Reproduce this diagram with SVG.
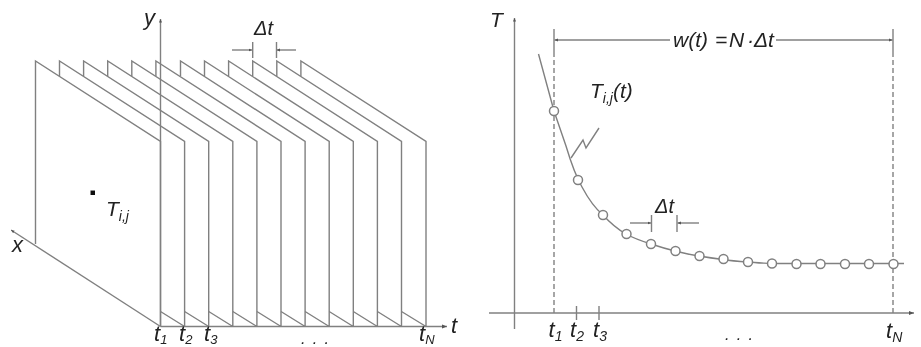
<svg xmlns="http://www.w3.org/2000/svg" width="921" height="347" viewBox="0 0 921 347">
<style>
.l{fill:none;stroke:#808080;stroke-width:1.4}
.d{stroke-dasharray:5 3}
.c{fill:#fff;stroke:#808080;stroke-width:1.5}
.t{font-family:"Liberation Sans",Arial,sans-serif;font-style:italic;fill:#222;font-size:20px}
.s{font-size:14px}
.u{font-size:13px}
.o{font-size:16px;letter-spacing:1.4px}
</style>
<defs>
<marker id="a" markerWidth="6" markerHeight="6" refX="5" refY="3" orient="auto" markerUnits="userSpaceOnUse"><path d="M0 1L5 3L0 5z" fill="#555"/></marker>
<marker id="b" markerWidth="4" markerHeight="4" refX="3.500" refY="2" orient="auto" markerUnits="userSpaceOnUse"><path d="M0 0.500L3.500 2L0 3.500z" fill="#555"/></marker>
<filter id="f" x="0" y="0" width="1" height="1"><feGaussianBlur stdDeviation="0.45"/></filter>
</defs>
<rect width="921" height="347" fill="#fff"/>
<g filter="url(#f)">
<g id="frames">
<path class="l" d="M35.500 244V61L160.500 141.500V326"/>
<path class="l" d="M59.500 76V61L184.600 141.500V326M160.500 311.500L184.600 326.500"/>
<path class="l" d="M83.600 76V61L208.700 141.500V326M184.600 311.500L208.700 326.500"/>
<path class="l" d="M107.700 76V61L232.800 141.500V326M208.700 311.500L232.800 326.500"/>
<path class="l" d="M131.800 76V61L256.900 141.500V326M232.800 311.500L256.900 326.500"/>
<path class="l" d="M155.900 76V61L281 141.500V326M256.900 311.500L281 326.500"/>
<path class="l" d="M180.500 76V61L305.100 141.500V326M281 311.500L305.100 326.500"/>
<path class="l" d="M204.500 76V61L329.200 141.500V326M305.100 311.500L329.200 326.500"/>
<path class="l" d="M228.600 76V61L353.300 141.500V326M329.200 311.500L353.300 326.500"/>
<path class="l" d="M252.700 76V61L377.400 141.500V326M353.300 311.500L377.400 326.500"/>
<path class="l" d="M276.800 76V61L401.500 141.500V326M377.400 311.500L401.500 326.500"/>
<path class="l" d="M300.900 76V61L426 141.500V326M401.500 311.500L426 326.500"/>
</g>
<g id="connectors">
<path class="l" d="M160.500 326.500V19" marker-end="url(#b)"/>
<path class="l" d="M160.500 326.500L11 230" marker-end="url(#b)"/>
<path class="l" d="M160.500 326.500H447" marker-end="url(#a)"/>
<path class="l" d="M232 50H252" marker-end="url(#b)"/>
<path class="l" d="M296 50H276.500" marker-end="url(#b)"/>
<path class="l" d="M252.700 42V58M276.500 42V58"/>
<path class="l" d="M514.500 329V18" marker-end="url(#b)"/>
<path class="l" d="M489 313H914" marker-end="url(#a)"/>
<path class="l" d="M554 29V52"/>
<path class="l d" d="M554 52V313"/>
<path class="l" d="M893 29V52"/>
<path class="l d" d="M893 52V313"/>
<path class="l" d="M670 40H554.500" marker-end="url(#b)"/>
<path class="l" d="M776 40H892.500" marker-end="url(#b)"/>
<path class="l" d="M538.500 54L554 111L566 146C572 166 578 180 582 187C590 202 597 210 603 215C612 225 619 230 626 234C635 239 643 241.500 651 244C660 247 667 249 675 251C683 253 691 255 699 256C708 257.500 715 258.500 723 259.500C732 261 740 261.500 748 262C756 263 764 263 772 263.500H904"/>
<path class="l" d="M571 158L583 140L586 148L599 128"/>
<path class="l" d="M630 223H651" marker-end="url(#b)"/>
<path class="l" d="M699 223H677.500" marker-end="url(#b)"/>
<path class="l" d="M651.500 215V232M677 215V232"/>
<path class="l" d="M576.500 306V320M599 306V320"/>
</g>
<g id="point"><rect x="90.500" y="190.500" width="4.500" height="4.500" fill="#111"/></g>
<g id="samples">
<circle class="c" cx="554" cy="111" r="4.500"/>
<circle class="c" cx="578" cy="180" r="4.500"/>
<circle class="c" cx="603" cy="215" r="4.500"/>
<circle class="c" cx="626.500" cy="234" r="4.500"/>
<circle class="c" cx="651" cy="244" r="4.500"/>
<circle class="c" cx="675.500" cy="251" r="4.500"/>
<circle class="c" cx="699.500" cy="256" r="4.500"/>
<circle class="c" cx="723.500" cy="259" r="4.500"/>
<circle class="c" cx="748" cy="262" r="4.500"/>
<circle class="c" cx="772" cy="263.500" r="4.500"/>
<circle class="c" cx="796.500" cy="264" r="4.500"/>
<circle class="c" cx="820.500" cy="264" r="4.500"/>
<circle class="c" cx="845" cy="264" r="4.500"/>
<circle class="c" cx="869" cy="264" r="4.500"/>
<circle class="c" cx="893.500" cy="264" r="4.500"/>
</g>
<g id="labels">
<text class="t" x="144" y="25" style="font-size:22px">y</text>
<text class="t" x="254" y="35" style="font-size:20px">Δt</text>
<text class="t" x="106" y="216" style="font-size:21px">T<tspan class="s" dy="5">i,j</tspan></text>
<text class="t" x="12" y="252" style="font-size:22px">x</text>
<text class="t" x="154" y="341" style="font-size:22px">t<tspan class="u" dy="2.500">1</tspan></text>
<text class="t" x="179" y="341" style="font-size:22px">t<tspan class="u" dy="2.500">2</tspan></text>
<text class="t" x="204" y="341" style="font-size:22px">t<tspan class="u" dy="2.500">3</tspan></text>
<text class="o t" x="301" y="344" style="font-size:16px">. . .</text>
<text class="t" x="419" y="341" style="font-size:22px">t<tspan class="u" dy="2.500">N</tspan></text>
<text class="t" x="451" y="333" style="font-size:22px">t</text>
<text class="t" x="490" y="27" style="font-size:21px">T</text>
<text class="t" x="590" y="98" style="font-size:21px">T<tspan class="s" dy="5">i,j</tspan><tspan dy="-5">(t)</tspan></text>
<text class="t" x="673" y="47" style="font-size:21px">w(t)<tspan x="715">=</tspan><tspan x="729">N</tspan><tspan x="747">·</tspan><tspan x="754">Δt</tspan></text>
<text class="t" x="655" y="213" style="font-size:20px">Δt</text>
<text class="t" x="548.500" y="337" style="font-size:22px">t<tspan class="s" dy="4">1</tspan></text>
<text class="t" x="570" y="337" style="font-size:22px">t<tspan class="s" dy="4">2</tspan></text>
<text class="t" x="593" y="337" style="font-size:22px">t<tspan class="s" dy="4">3</tspan></text>
<text class="o t" x="725" y="339.500" style="font-size:16px">. . .</text>
<text class="t" x="886" y="338" style="font-size:22px">t<tspan class="s" dy="4">N</tspan></text>
</g>
</g>
</svg>
